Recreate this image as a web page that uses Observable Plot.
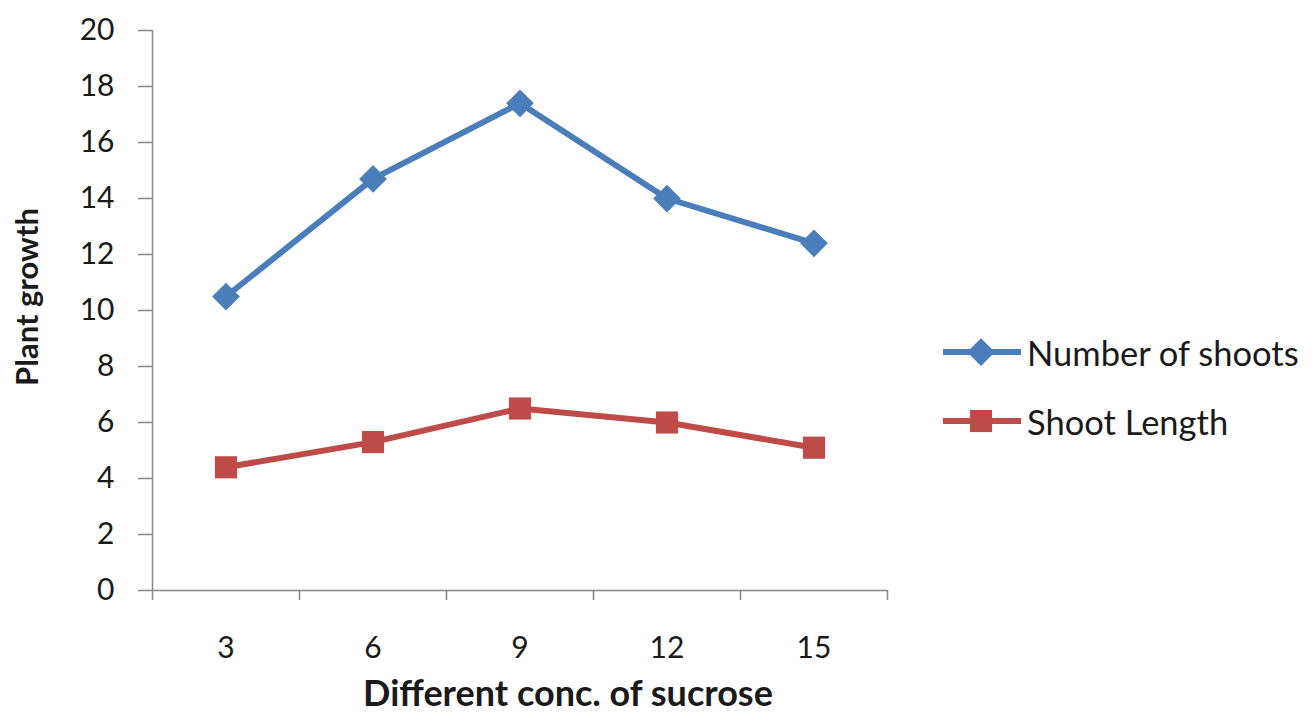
<!DOCTYPE html>
<html>
<head>
<meta charset="utf-8">
<script src="https://cdn.jsdelivr.net/npm/d3@7"></script>
<script src="https://cdn.jsdelivr.net/npm/@observablehq/plot@0.6"></script>
<style>
  html, body { margin: 0; padding: 0; background: #fff; }
  #wrap { position: relative; width: 1315px; height: 713px; font-family: Lato, "Open Sans", sans-serif; color: #1a1a1a; overflow: hidden; }
  #chart { position: absolute; left: 0; top: 0; }
  #chart svg text { font-size: 30px; }
  .xlabel { position: absolute; left: 568px; top: 692px; transform: translate(-50%, -50%); font-weight: bold; font-size: 36px; white-space: nowrap; }
  .ylabel { position: absolute; left: 26px; top: 297px; transform: translate(-50%, -50%) rotate(-90deg); font-weight: bold; font-size: 31px; white-space: nowrap; }
  .legend { position: absolute; left: 941px; top: 0; }
  .legend-row { position: absolute; left: 0; display: flex; align-items: center; white-space: nowrap; font-size: 34.5px; }
  .legend-row svg { display: block; margin-right: 4px; }
</style>
</head>
<body>
<div id="wrap">
  <div id="chart"></div>
  <div class="ylabel">Plant growth</div>
  <div class="xlabel">Different conc. of sucrose</div>
  <div class="legend" id="legend"></div>
</div>
<script>
const concentrations = [3, 6, 9, 12, 15];
const numberOfShoots = [10.5, 14.7, 17.4, 14.0, 12.4];
const shootLength = [4.4, 5.3, 6.5, 6.0, 5.1];
const yTicks = [0, 2, 4, 6, 8, 10, 12, 14, 16, 18, 20];
const seriesNames = ["Number of shoots", "Shoot Length"];
const seriesColors = ["#4A7EBB", "#BE4B48"];
const seriesSymbols = ["diamond2", "square"];

const step = concentrations[1] - concentrations[0];
const boundaries = [...concentrations.map(c => c - step / 2), concentrations[concentrations.length - 1] + step / 2];
const xDomain = [boundaries[0], boundaries[boundaries.length - 1]];

const rows = [];
concentrations.forEach((c, i) => {
  rows.push({conc: c, value: numberOfShoots[i], series: seriesNames[0]});
  rows.push({conc: c, value: shootLength[i], series: seriesNames[1]});
});

const axisColor = "#868686";

const chart = Plot.plot({
  width: 1315,
  height: 713,
  marginLeft: 152,
  marginRight: 428,
  marginTop: 30,
  marginBottom: 123,
  style: {fontFamily: "Lato, 'Open Sans', sans-serif", fontSize: "30px", color: "#1a1a1a", background: "white"},
  x: {type: "linear", domain: xDomain},
  y: {domain: [yTicks[0], yTicks[yTicks.length - 1]]},
  color: {domain: seriesNames, range: seriesColors},
  symbol: {domain: seriesNames, range: seriesSymbols},
  marks: [
    Plot.axisY({ticks: yTicks, tickSize: 14, tickPadding: 24, fontSize: 30, label: null, stroke: axisColor, strokeWidth: 1.5, fill: "#1a1a1a"}),
    Plot.axisX({ticks: boundaries, tickSize: 10, tickFormat: () => "", label: null, stroke: axisColor, strokeWidth: 1.5}),
    Plot.axisX({ticks: concentrations, tickSize: 0, tickPadding: 46, fontSize: 30, label: null, fill: "#1a1a1a"}),
    Plot.ruleX([xDomain[0]], {stroke: axisColor, strokeWidth: 1.5}),
    Plot.ruleY([0], {stroke: axisColor, strokeWidth: 1.5}),
    Plot.line(rows, {x: "conc", y: "value", z: "series", stroke: "series", strokeWidth: 6}),
    Plot.dot(rows, {x: "conc", y: "value", fill: "series", symbol: "series", r: 12.5, stroke: null})
  ]
});
document.getElementById("chart").appendChild(chart);

// Legend
const legend = document.getElementById("legend");
const legendTops = [352, 421];
seriesNames.forEach((name, i) => {
  const row = document.createElement("div");
  row.className = "legend-row";
  row.style.top = (legendTops[i] - 22) + "px";
  const sym = d3.create("svg").attr("width", 82).attr("height", 44);
  sym.append("line").attr("x1", 2).attr("x2", 80).attr("y1", 22).attr("y2", 22)
    .attr("stroke", seriesColors[i]).attr("stroke-width", 6);
  const symType = i === 0 ? d3.symbolDiamond2 : d3.symbolSquare;
  sym.append("path").attr("d", d3.symbol(symType, Math.PI * 12.5 * 12.5)())
    .attr("transform", "translate(40,22)").attr("fill", seriesColors[i]);
  row.appendChild(sym.node());
  const t = document.createElement("span");
  t.textContent = name;
  row.appendChild(t);
  legend.appendChild(row);
});
</script>
</body>
</html>
